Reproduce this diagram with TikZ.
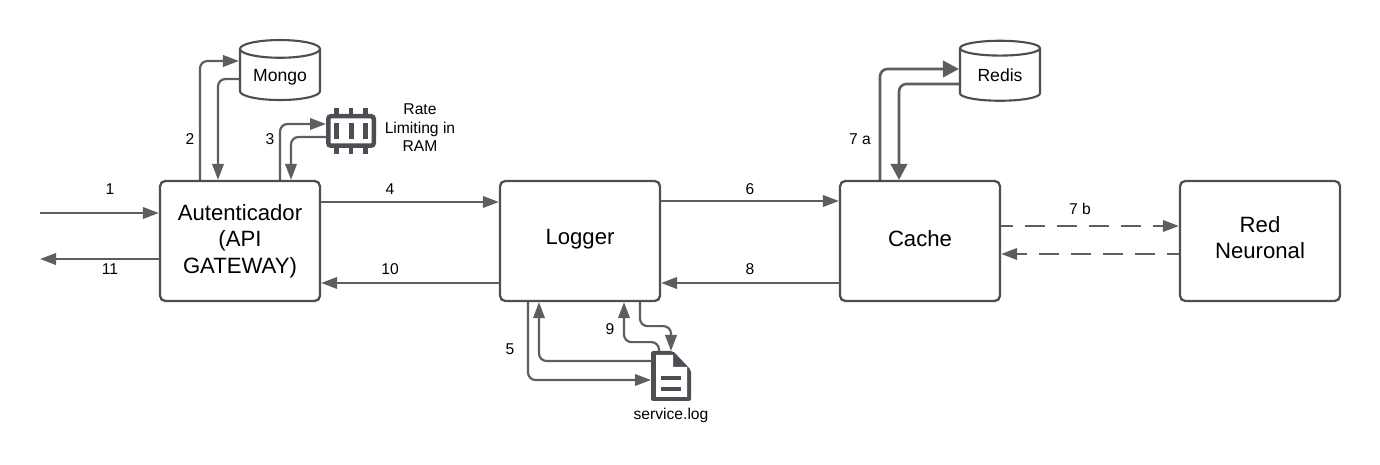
\documentclass[tikz,border=0pt]{standalone}
\usepackage{fontspec}
\setmainfont{Liberation Sans}
\usepackage{tikz}
\usetikzlibrary{arrows.meta,shapes.geometric,positioning,calc}
\definecolor{gwInk}{HTML}{4B4F54}
\definecolor{gwEdge}{HTML}{5E5E5E}
\tikzset{
  gwBox/.style={draw=gwInk,fill=white,line width=1.3pt,rounded corners=3pt,align=center,
    minimum width=3.2cm,minimum height=2.4cm,inner sep=2pt,font=\fontsize{12.6}{15.2}\selectfont},
  gwStore/.style={cylinder,shape border rotate=90,aspect=0.33,draw=gwInk,fill=white,line width=1.2pt,
    minimum width=1.6cm,minimum height=1.2cm,inner sep=0pt,text height=9pt,text depth=2pt,
    font=\fontsize{10}{12}\selectfont},
  gwEdgeLine/.style={-{Triangle[length=3.2mm,width=2.3mm]},draw=gwEdge,fill=none,line width=1.25pt,rounded corners=1.5mm},
  gwBigEdge/.style={gwEdgeLine,-{Triangle[length=3.2mm,width=3.3mm]},line width=1.5pt},
  gwDashed/.style={gwEdgeLine,dash pattern=on 4mm off 2.4mm,dash phase=1.6mm},
  gwKey/.style={inner sep=0pt,font=\fontsize{8.9}{10.5}\selectfont,text=black}
}
\begin{document}
\begin{tikzpicture}
\useasboundingbox (0,0) rectangle (27.6,9.3);
\node[gwBox] (auth) at (4.8,4.48) {Autenticador\\(API\\GATEWAY)};
\node[gwBox,text depth=4.5pt] (logger) at (11.6,4.48) {Logger};
\node[gwBox,text depth=2.3pt] (cache) at (18.4,4.48) {Cache};
\node[gwBox,text depth=4pt] (neural) at (25.2,4.48) {Red\\Neuronal};
\node[gwStore] (mongo) at (5.6,7.8) {Mongo};
\node[gwStore] (redis) at (20,7.8) {Redis};
\foreach \pinx in {-.29,0,.29}{
  \fill[gwInk] (6.975+\pinx,6.22) rectangle ++(.09,.92);
}
\node[draw=gwInk,fill=white,line width=.09cm,rounded corners=1.5pt,minimum width=.91cm,minimum height=.59cm,inner sep=0pt] (ram) at (7.02,6.68) {};
\foreach \barx in {-.29,0,.29}{
  \fill[gwInk] ([xshift=\barx cm-.05cm,yshift=-.16cm]ram.center) rectangle ++(.1,.32);
}
\node[gwKey,align=center] (ramtext) at (8.4,6.74) {Rate\\Limiting in\\RAM};
\node[minimum width=.8cm,minimum height=1cm,inner sep=0pt,outer sep=0pt] (logfile) at (13.42,1.78) {};
\fill[gwInk,rounded corners=1.2pt] (13.02,1.28) -- (13.02,2.28) -- (13.46,2.28) -- (13.82,1.90) -- (13.82,1.28) -- cycle;
\fill[white] (13.12,1.36) -- (13.12,2.2) -- (13.46,2.2) -- (13.46,1.96) -- (13.74,1.96) -- (13.74,1.36) -- cycle;
\fill[gwInk] (13.22,1.70) rectangle (13.62,1.78);
\fill[gwInk] (13.22,1.48) rectangle (13.62,1.56);
\node[gwKey,below=.14cm of logfile] (logtext) {service.log};
\coordinate (inlet) at (0.8,5.04);
\coordinate (outlet) at (0.8,4.12);
\draw[gwEdgeLine] (inlet) -- (inlet -| auth.west);
\draw[gwEdgeLine] (outlet -| auth.west) -- (outlet);
\draw[gwEdgeLine] ([xshift=-.8cm]auth.north) |- ([yshift=.28cm]mongo.west);
\draw[gwEdgeLine] ([yshift=-.08cm]mongo.west) -| ([xshift=-.44cm]auth.north);
\draw[gwEdgeLine] ([xshift=.8cm]auth.north) |- ([yshift=.14cm]ram.west);
\draw[gwEdgeLine] ([yshift=-.12cm]ram.west) -| ([xshift=1.02cm]auth.north);
\draw[gwEdgeLine] ([yshift=.78cm]auth.east) -- ([yshift=.78cm]logger.west);
\draw[gwEdgeLine] ([yshift=-.84cm]logger.west) -- ([yshift=-.84cm]auth.east);
\draw[gwEdgeLine] ([yshift=.8cm]logger.east) -- ([yshift=.8cm]cache.west);
\draw[gwEdgeLine] ([yshift=-.84cm]cache.west) -- ([yshift=-.84cm]logger.east);
\draw[gwBigEdge] ([xshift=-.8cm]cache.north) |- ([yshift=.12cm]redis.west);
\draw[gwBigEdge] ([yshift=-.18cm]redis.west) -| ([xshift=-.42cm]cache.north);
\draw[gwDashed] ([yshift=.3cm]cache.east) -- ([yshift=.3cm]neural.west);
\draw[gwDashed] ([yshift=-.26cm]neural.west) -- ([yshift=-.26cm]cache.east);
\draw[gwEdgeLine] ([xshift=-1.04cm]logger.south) |- ([yshift=-.08cm]logfile.west);
\draw[gwEdgeLine] ([yshift=.3cm]logfile.west) -| ([xshift=-.82cm]logger.south);
\draw[gwEdgeLine] ([xshift=-.24cm]logfile.north) |- ([xshift=.88cm,yshift=-.8cm]logger.south) -- ([xshift=.88cm]logger.south);
\draw[gwEdgeLine] ([xshift=1.2cm]logger.south) |- ([yshift=-.48cm]logger.south -| logfile.north) -- (logfile.north);
\node[gwKey] (key1) at (2.2,5.52) {1};
\node[gwKey] (key2) at (3.8,6.52) {2};
\node[gwKey] (key3) at (5.4,6.52) {3};
\node[gwKey] (key4) at (7.8,5.52) {4};
\node[gwKey] (key5) at (10.2,2.32) {5};
\node[gwKey] (key6) at (15,5.52) {6};
\node[gwKey] (key7a) at (17.2,6.52) {7 a};
\node[gwKey] (key7b) at (21.6,5.12) {7 b};
\node[gwKey] (key8) at (15,3.92) {8};
\node[gwKey] (key9) at (12.2,2.72) {9};
\node[gwKey] (key10) at (7.8,3.92) {10};
\node[gwKey] (key11) at (2.2,3.92) {11};
\end{tikzpicture}
\end{document}
